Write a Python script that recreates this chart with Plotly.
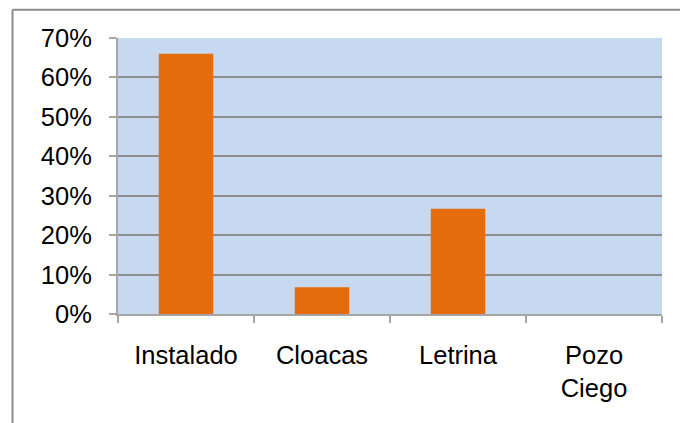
import plotly.graph_objects as go

categorias = ["Instalado", "Cloacas", "Letrina", "Pozo<br>Ciego"]
porcentajes = [66.0, 6.8, 26.7, 0.0]
ticks_y = [0, 10, 20, 30, 40, 50, 60, 70]
etiquetas_y = [f"{v}%" for v in ticks_y]

fig = go.Figure(
    go.Bar(
        x=categorias,
        y=porcentajes,
        marker=dict(color="#E46C0A", line=dict(width=0)),
        width=0.4,
    )
)

# Marco gris del gráfico (borde superior e izquierdo)
borde_x = (12.5 - 118) / 544
borde_y = (314.3 - 9.5) / 276.6

fig.update_layout(
    width=680,
    height=423,
    margin=dict(l=118, r=18, t=38, b=109),
    paper_bgcolor="white",
    plot_bgcolor="#C6D9F1",
    font=dict(family="Liberation Sans, Arial, sans-serif", size=25.5, color="black"),
    showlegend=False,
    shapes=[
        dict(type="line", xref="paper", yref="paper",
             x0=borde_x, x1=1.2, y0=borde_y, y1=borde_y,
             line=dict(color="#8C8C8C", width=2)),
        dict(type="line", xref="paper", yref="paper",
             x0=borde_x, x1=borde_x, y0=-0.5, y1=borde_y,
             line=dict(color="#8C8C8C", width=2)),
    ],
)

fig.update_xaxes(
    showline=True, linecolor="#A6A6A6", linewidth=2,
    ticks="outside", tickson="boundaries", ticklen=7, tickcolor="#A6A6A6", tickwidth=2,
    showgrid=False, ticklabelstandoff=17,
)
fig.update_yaxes(
    range=[0, 70], tickvals=ticks_y, ticktext=etiquetas_y,
    showline=True, linecolor="#A6A6A6", linewidth=2,
    ticks="outside", ticklen=7, tickcolor="#A6A6A6", tickwidth=2,
    showgrid=True, gridcolor="#8E8E8E", gridwidth=2,
    zeroline=False, ticklabelstandoff=12,
)

fig.write_html("out.html")
